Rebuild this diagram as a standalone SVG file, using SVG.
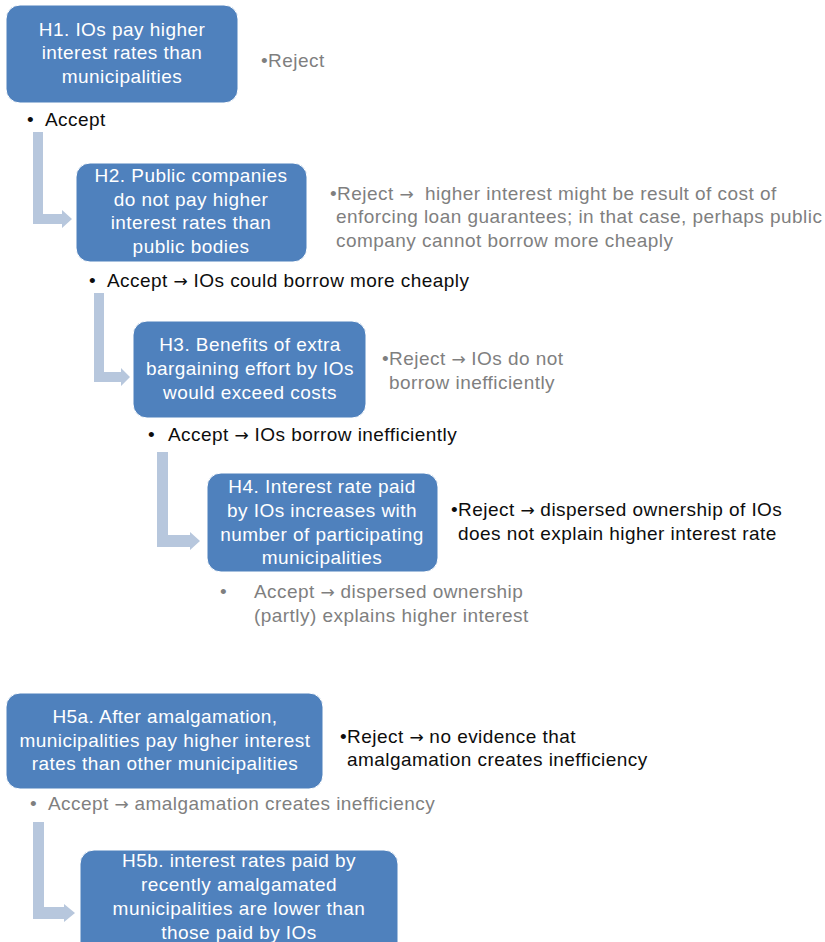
<svg xmlns="http://www.w3.org/2000/svg" width="825" height="942" viewBox="0 0 825 942">
<style>
text{font-family:"Liberation Sans",Arial,sans-serif;font-size:19px;letter-spacing:0.45px}
.box{fill:#4F81BD;stroke:#ffffff;stroke-width:1}
.bt{fill:#ffffff;text-anchor:middle}
.k{fill:#0d0d0d}
.g{fill:#7f7f7f}
.ar{font-family:"DejaVu Sans",sans-serif;font-size:17px;letter-spacing:0}
.arr{fill:#B7C7DD}
</style>
<rect width="825" height="942" fill="#ffffff"/>
<g id="connectors">
<path class="arr" d="M33,132 H43 V214 H62 V210 L72,219 L62,228 V224 H33 Z"/>
<path class="arr" d="M94,293 H104 V372 H121 V368 L130,377 L121,386 V382 H94 Z"/>
<path class="arr" d="M157,452 H168 V535 H190 V532 L200,541 L190,550 V547 H157 Z"/>
<path class="arr" d="M33,822 H44 V907 H64 V904 L75,913 L64,922 V919 H33 Z"/>
</g>
<g id="H1">
<rect class="box" x="6" y="5" width="232" height="98" rx="14"/>
<text class="bt" x="122" y="36">H1. IOs pay higher</text>
<text class="bt" x="122" y="59">interest rates than</text>
<text class="bt" x="122" y="83">municipalities</text>
</g>
<g id="H1-reject"><text class="g" x="261" y="67">•Reject</text></g>
<g id="H1-accept"><text class="k" x="27" y="126">•</text><text class="k" x="45" y="126">Accept</text></g>
<g id="H2">
<rect class="box" x="76" y="163" width="231" height="99" rx="14"/>
<text class="bt" x="191" y="182">H2. Public companies</text>
<text class="bt" x="191" y="206">do not pay higher</text>
<text class="bt" x="191" y="229">interest rates than</text>
<text class="bt" x="191" y="253">public bodies</text>
</g>
<g id="H2-reject">
<text class="g" x="330" y="200">•Reject <tspan class="ar">→</tspan>&#160; higher interest might be result of cost of</text>
<text class="g" x="336" y="223">enforcing loan guarantees; in that case, perhaps public</text>
<text class="g" x="336" y="247">company cannot borrow more cheaply</text>
</g>
<g id="H2-accept"><text class="k" x="89" y="287">•</text><text class="k" x="107" y="287">Accept <tspan class="ar">→</tspan> IOs could borrow more cheaply</text></g>
<g id="H3">
<rect class="box" x="133" y="321" width="233" height="97" rx="14"/>
<text class="bt" x="250" y="351">H3. Benefits of extra</text>
<text class="bt" x="250" y="375">bargaining effort by IOs</text>
<text class="bt" x="250" y="399">would exceed costs</text>
</g>
<g id="H3-reject">
<text class="g" x="382" y="365">•Reject <tspan class="ar">→</tspan> IOs do not</text>
<text class="g" x="389" y="389">borrow inefficiently</text>
</g>
<g id="H3-accept"><text class="k" x="148" y="441">•</text><text class="k" x="168" y="441">Accept <tspan class="ar">→</tspan> IOs borrow inefficiently</text></g>
<g id="H4">
<rect class="box" x="207" y="473" width="231" height="99" rx="14"/>
<text class="bt" x="322" y="493">H4. Interest rate paid</text>
<text class="bt" x="322" y="517">by IOs increases with</text>
<text class="bt" x="322" y="541">number of participating</text>
<text class="bt" x="322" y="564">municipalities</text>
</g>
<g id="H4-reject">
<text class="k" x="451" y="516">•Reject <tspan class="ar">→</tspan> dispersed ownership of IOs</text>
<text class="k" x="458" y="540">does not explain higher interest rate</text>
</g>
<g id="H4-accept">
<text class="g" x="220" y="598">•</text>
<text class="g" x="254" y="598">Accept <tspan class="ar">→</tspan> dispersed ownership</text>
<text class="g" x="254" y="622">(partly) explains higher interest</text>
</g>
<g id="H5a">
<rect class="box" x="6" y="693" width="317" height="96" rx="14"/>
<text class="bt" x="165" y="723">H5a. After amalgamation,</text>
<text class="bt" x="165" y="747">municipalities pay higher interest</text>
<text class="bt" x="165" y="770">rates than other municipalities</text>
</g>
<g id="H5a-reject">
<text class="k" x="340" y="743">•Reject <tspan class="ar">→</tspan> no evidence that</text>
<text class="k" x="347" y="766">amalgamation creates inefficiency</text>
</g>
<g id="H5a-accept"><text class="g" x="30" y="810">•</text><text class="g" x="48" y="810">Accept <tspan class="ar">→</tspan> amalgamation creates inefficiency</text></g>
<g id="H5b">
<rect class="box" x="80" y="850" width="318" height="110" rx="14"/>
<text class="bt" x="239" y="867">H5b. interest rates paid by</text>
<text class="bt" x="239" y="891">recently amalgamated</text>
<text class="bt" x="239" y="915">municipalities are lower than</text>
<text class="bt" x="239" y="939">those paid by IOs</text>
</g>
</svg>
